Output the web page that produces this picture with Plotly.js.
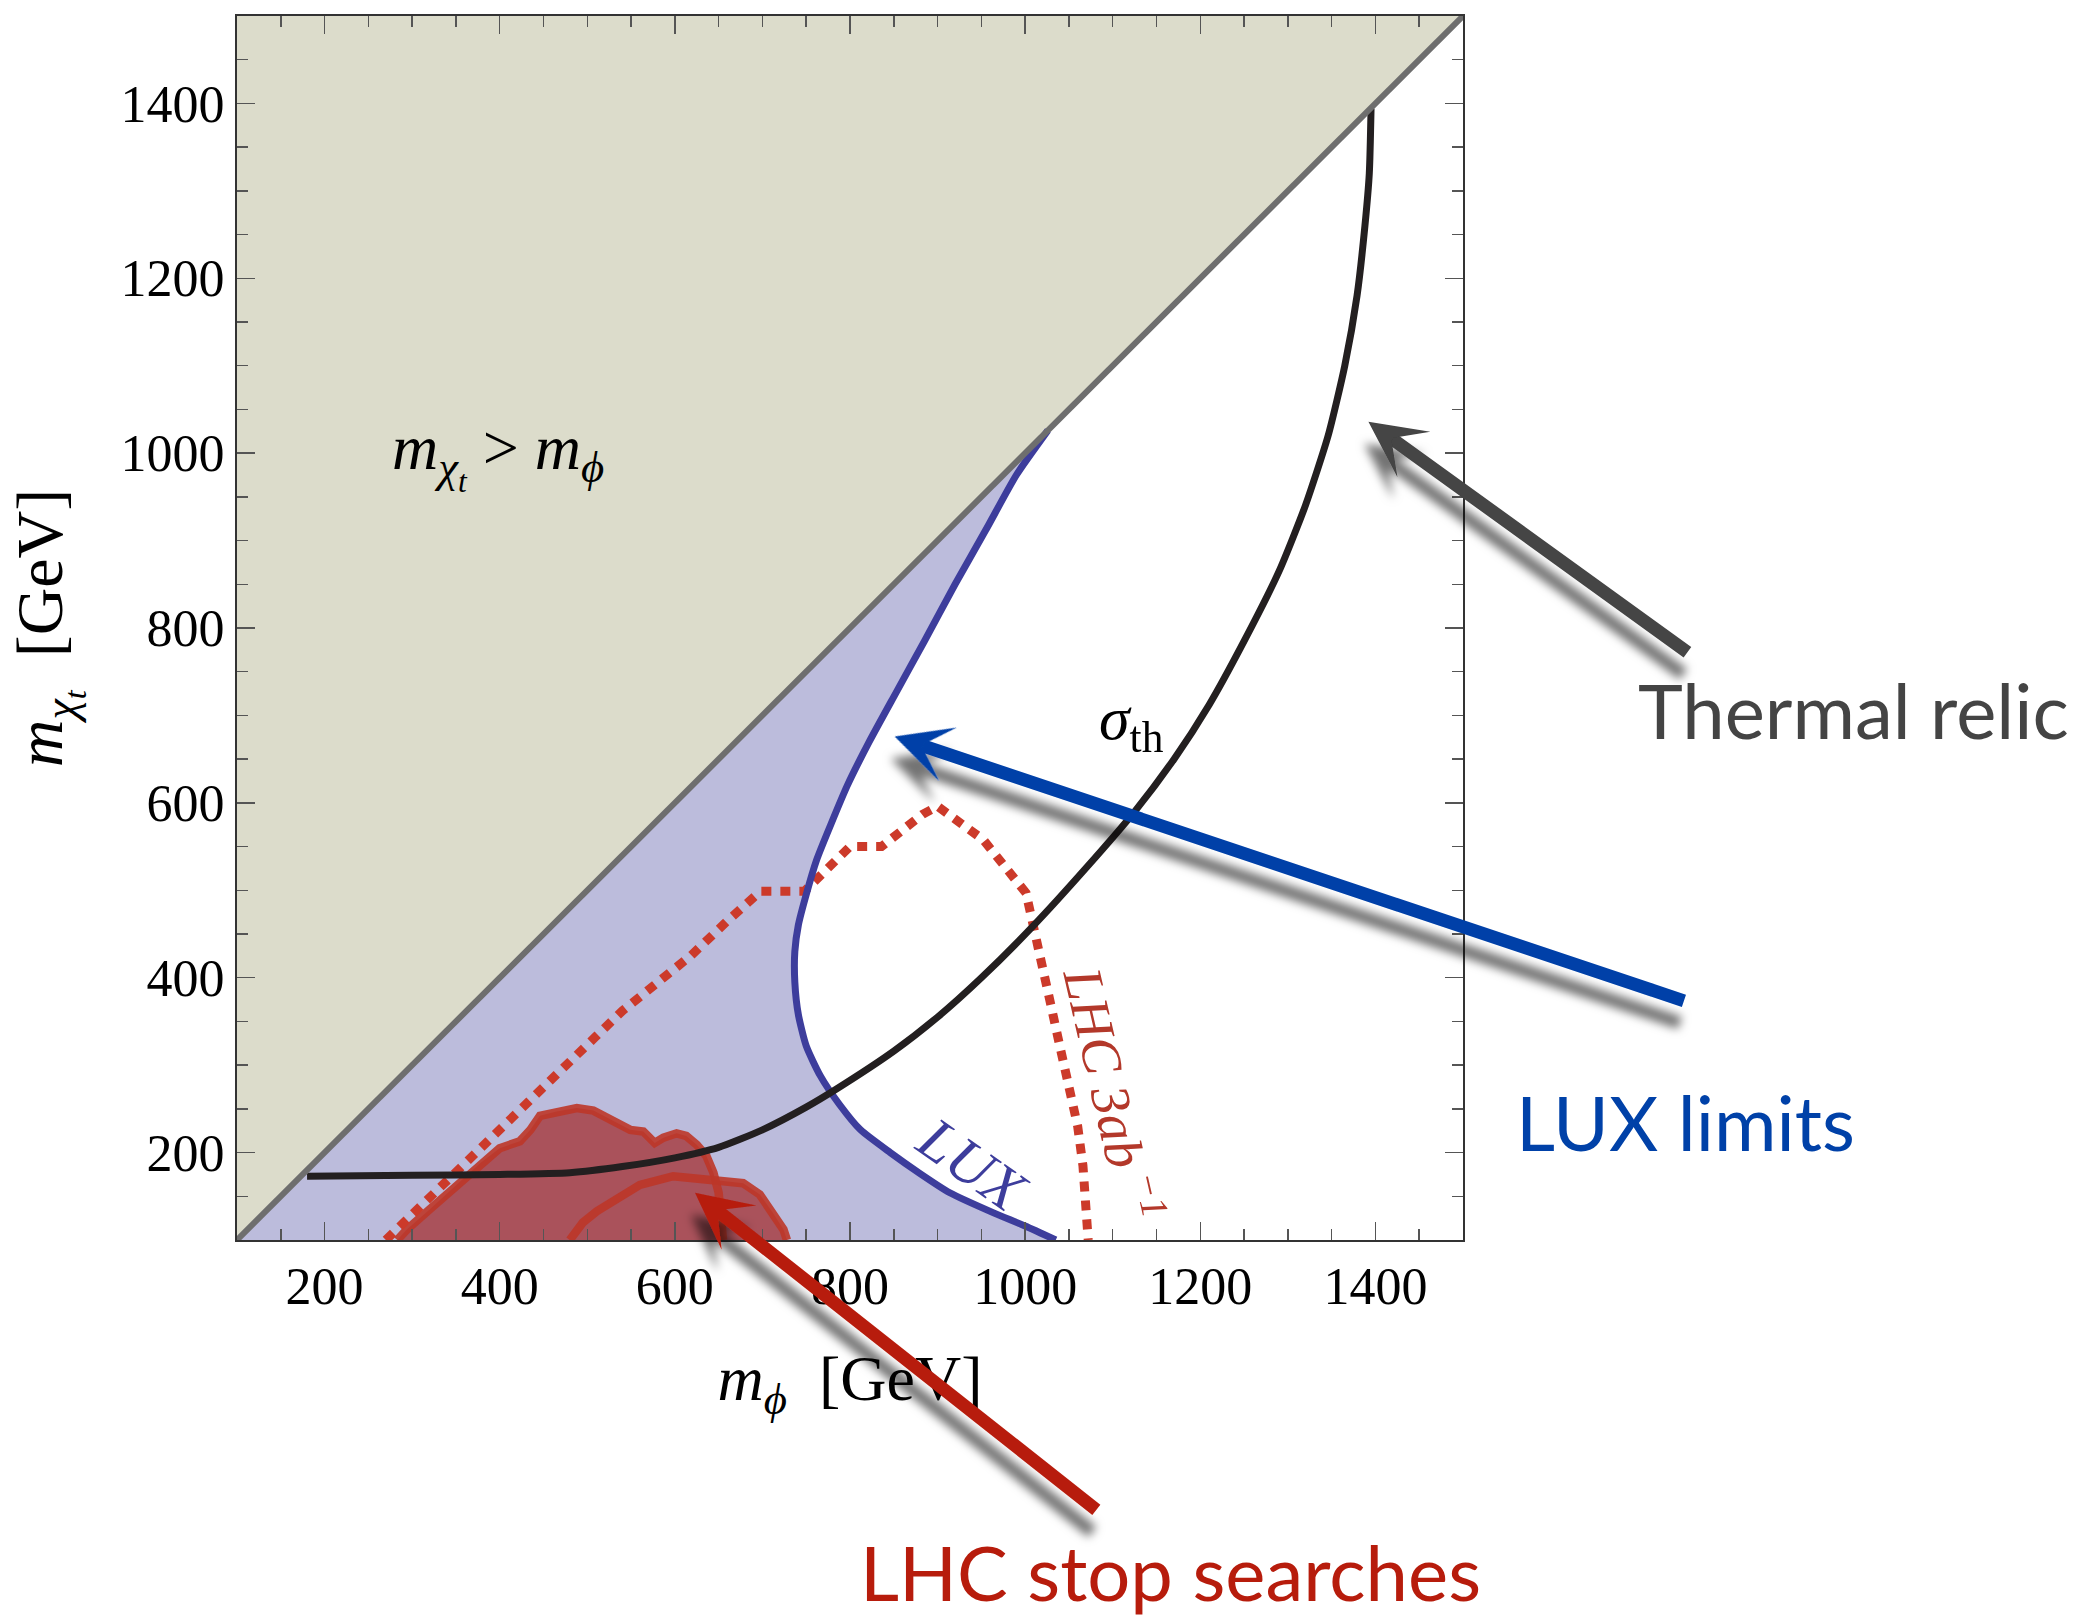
<!DOCTYPE html>
<html>
<head>
<meta charset="utf-8">
<script src="https://cdn.plot.ly/plotly-3.0.1.min.js"></script>
<style>
  html, body { margin: 0; padding: 0; background: #ffffff; }
  #plot { width: 2078px; height: 1621px; }
</style>
</head>
<body>
<!-- soft drop shadow used under the pointer arrows -->
<svg width="0" height="0" style="position:absolute">
  <defs>
    <filter id="arrowShadow" x="-50%" y="-50%" width="200%" height="200%">
      <feDropShadow dx="-4" dy="22" stdDeviation="5" flood-color="#000000" flood-opacity="0.55"/>
    </filter>
  </defs>
</svg>
<div id="plot"></div>
<script>
// Mass plane: m_phi (x) vs m_chi_t (y), both in GeV
const axisRange = [100, 1500];

// kinematic boundary m_chi_t = m_phi
const diagX = [100, 1500];
const diagY = [100, 1500];

// LUX exclusion contour (from the diagonal down to the lower edge)
const luxX = [1026, 990, 955, 920, 885, 852, 822, 797, 778, 762, 750, 741, 737, 737, 741, 750, 766, 788, 812, 846, 880, 914, 964, 1000, 1035];
const luxY = [1026, 975, 912, 850, 785, 725, 670, 620, 575, 535, 495, 460, 430, 395, 358, 322, 288, 255, 226, 200, 176, 154, 131, 116, 100];

// thermal relic cross-section curve sigma_th
const thermalX = [180, 300, 400, 480, 540, 600, 650, 700, 750, 785, 850, 900, 950, 1009, 1070, 1125, 1170, 1210, 1250, 1290, 1320, 1346, 1365, 1379, 1388, 1393, 1395];
const thermalY = [173, 174, 175, 177, 184, 194, 206, 226, 252, 273, 316, 355, 400, 459, 526, 590, 650, 712, 785, 865, 940, 1020, 1100, 1180, 1260, 1320, 1394];

// LHC 3 ab^-1 projected reach
const lhcX = [270, 400, 460, 510, 540, 578, 618, 660, 698, 748, 800, 836, 862, 883, 900, 952, 1001, 1013, 1028, 1040, 1051, 1060, 1066, 1070, 1072];
const lhcY = [100, 228, 285, 333, 362, 394, 425, 465, 499, 499, 550, 550, 571, 587, 596, 558, 497, 447, 375, 320, 276, 230, 185, 140, 100];

// current LHC stop search exclusions (two regions)
const stopAX = [283, 294, 320, 358, 378, 400, 423, 435, 446, 465, 488, 507, 526, 549, 564, 577, 587, 602, 613, 625, 636, 644, 650, 653, 655];
const stopAY = [100, 112, 135, 169, 188, 205, 213, 226, 242, 247, 251, 248, 238, 226, 224, 211, 217, 222, 219, 209, 196, 177, 154, 127, 100];
const stopBX = [480, 495, 511, 537, 560, 598, 625, 655, 678, 697, 712, 724, 728];
const stopBY = [100, 120, 133, 150, 163, 173, 171, 168, 165, 152, 131, 112, 100];

const serif = 'Liberation Serif, Times New Roman, serif';
const sans = 'Lato, Open Sans, sans-serif';

const traces = [
  // forbidden region above the diagonal
  {
    x: [diagX[0], diagX[0], diagX[1]],
    y: [diagY[0], diagY[1], diagY[1]],
    mode: 'lines', fill: 'toself', fillcolor: '#dcdccb',
    line: { width: 0 }, hoverinfo: 'skip'
  },
  // LUX excluded band between diagonal and LUX contour
  {
    x: [axisRange[0]].concat(luxX),
    y: [axisRange[0]].concat(luxY),
    mode: 'lines', fill: 'toself', fillcolor: '#bcbcdc',
    line: { width: 0 }, hoverinfo: 'skip'
  },
  // stop search regions (fill)
  {
    x: stopAX, y: stopAY, mode: 'lines', fill: 'toself', fillcolor: '#aa525b',
    line: { width: 0 }, hoverinfo: 'skip'
  },
  {
    x: stopBX, y: stopBY, mode: 'lines', fill: 'toself', fillcolor: '#aa525b',
    line: { width: 0 }, hoverinfo: 'skip'
  },
  // stop search region outlines
  {
    x: stopAX, y: stopAY, mode: 'lines',
    line: { color: 'rgba(188,54,40,0.9)', width: 8.5 }, hoverinfo: 'skip'
  },
  {
    x: stopBX, y: stopBY, mode: 'lines',
    line: { color: 'rgba(188,54,40,0.9)', width: 8.5 }, hoverinfo: 'skip'
  },
  // LHC 3/ab projection
  {
    x: lhcX, y: lhcY, mode: 'lines',
    line: { color: '#cc3a2a', width: 9, dash: '10px,9px' }, hoverinfo: 'skip'
  },
  // LUX contour
  {
    x: luxX, y: luxY, mode: 'lines',
    line: { color: '#3d3d9c', width: 7, shape: 'spline', smoothing: 0.6 }, hoverinfo: 'skip'
  },
  // thermal relic curve
  {
    x: thermalX, y: thermalY, mode: 'lines',
    line: { color: '#231f20', width: 7, shape: 'spline', smoothing: 0.6 }, hoverinfo: 'skip'
  },
  // diagonal boundary
  {
    x: diagX, y: diagY, mode: 'lines',
    line: { color: '#6e6e6e', width: 6 }, hoverinfo: 'skip'
  }
];

const axisCommon = {
  range: axisRange,
  tick0: 0, dtick: 200,
  ticks: 'inside', ticklen: 18, tickwidth: 1.5, tickcolor: '#555555',
  minor: { dtick: 50, tick0: 0, ticks: 'inside', ticklen: 11, tickwidth: 1.5, tickcolor: '#555555' },
  showline: true, mirror: 'ticks', linecolor: '#333333', linewidth: 2,
  showgrid: false, zeroline: false,
  tickfont: { family: serif, size: 52, color: '#000000' },
  ticklabelstandoff: 0,
  fixedrange: true
};

const arrowCommon = {
  text: '', showarrow: true, arrowhead: 3, arrowsize: 0.72, arrowwidth: 13,
  axref: 'x', ayref: 'y', xref: 'x', yref: 'y', standoff: 0
};

const layout = {
  width: 2078, height: 1621,
  margin: { l: 237, r: 615, t: 16, b: 381, pad: 0 },
  paper_bgcolor: '#ffffff', plot_bgcolor: '#ffffff',
  showlegend: false, hovermode: false,
  xaxis: Object.assign({}, axisCommon, {
    title: {
      text: '<i>m</i><sub><i>ϕ</i></sub>  [GeV]',
      font: { family: serif, size: 64, color: '#000000' },
      standoff: 41
    }
  }),
  yaxis: Object.assign({}, axisCommon, {
    title: {
      text: '<i>m</i><sub><i>χ</i><sub><i>t</i></sub></sub>  [GeV]',
      font: { family: serif, size: 66, color: '#000000' },
      standoff: 36
    }
  }),
  annotations: [
    Object.assign({}, arrowCommon, { x: 1392, y: 1036, ax: 1758, ay: 771, arrowcolor: '#444444' }),
    Object.assign({}, arrowCommon, { x: 851, y: 676, ax: 1754, ay: 373, arrowcolor: '#0041a8' }),
    Object.assign({}, arrowCommon, { x: 623, y: 154, ax: 1083, ay: -210, arrowcolor: '#b71c0c' }),
    {
      text: 'Thermal relic', showarrow: false, xref: 'paper', yref: 'paper',
      x: 1.1415, y: 0.4335, xanchor: 'left', yanchor: 'middle',
      font: { family: sans, size: 76, color: '#444444' }
    },
    {
      text: 'LUX limits', showarrow: false, xref: 'paper', yref: 'paper',
      x: 1.0415, y: 0.0965, xanchor: 'left', yanchor: 'middle',
      font: { family: sans, size: 76, color: '#0041a8' }
    },
    {
      text: 'LHC stop searches', showarrow: false, xref: 'paper', yref: 'paper',
      x: 0.5065, y: -0.2705, xanchor: 'left', yanchor: 'middle',
      font: { family: sans, size: 76, color: '#b71c0c' }
    },
    {
      text: '<i>m</i><sub><i>χ</i><sub><i>t</i></sub></sub> > <i>m</i><sub><i>ϕ</i></sub>',
      showarrow: false, xref: 'x', yref: 'y', x: 398, y: 997,
      font: { family: serif, size: 64, color: '#000000' }
    },
    {
      text: '<i>σ</i><sub>th</sub>',
      showarrow: false, xref: 'x', yref: 'y', x: 1122, y: 692,
      font: { family: serif, size: 62, color: '#000000' }
    },
    {
      text: '<i>LUX</i>',
      showarrow: false, xref: 'x', yref: 'y', x: 940, y: 186, textangle: 35,
      font: { family: serif, size: 60, color: '#3d3d9c' }
    },
    {
      text: '<i>LHC 3ab</i><sup><i> −1</i></sup>',
      showarrow: false, xref: 'x', yref: 'y', x: 1102, y: 268, textangle: 77,
      font: { family: serif, size: 55, color: '#b3382a' }
    }
  ]
};

Plotly.newPlot('plot', traces, layout, { staticPlot: true, displayModeBar: false }).then(function () {
  // give the three pointer arrows their blurred shadow
  document.querySelectorAll('.annotation').forEach(function (g) {
    const idx = +g.getAttribute('data-index');
    if (idx <= 2) {
      const arrow = g.querySelector('.annotation-arrow-g');
      if (arrow) arrow.setAttribute('filter', 'url(#arrowShadow)');
    }
  });
});
</script>
</body>
</html>
